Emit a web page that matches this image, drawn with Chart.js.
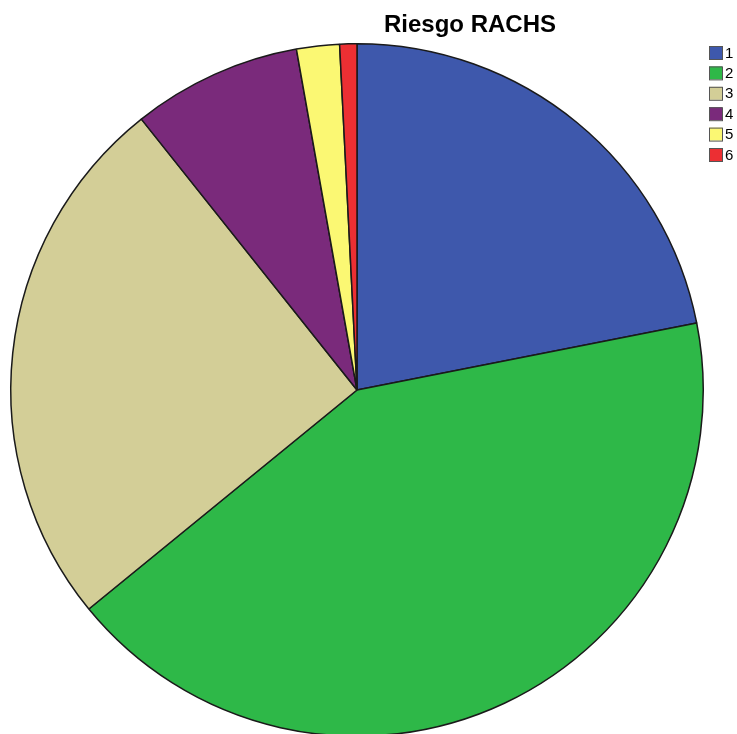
<!DOCTYPE html>
<html>
<head>
<meta charset="utf-8">
<title>Riesgo RACHS</title>
<script src="https://cdn.jsdelivr.net/npm/chart.js@4"></script>
<style>
    html, body { margin: 0; padding: 0; background: #fff; overflow: hidden; }
    #wrap { width: 737px; height: 740px; position: relative; }
</style>
</head>
<body>
<div id="wrap"><canvas id="riesgo-rachs"></canvas></div>
<script>
// categories and share of cases (%)
const categorias = ['1', '2', '3', '4', '5', '6'];
const porcentajes = [21.9, 42.2, 25.2, 7.9, 2.0, 0.8];
const colores = ['#3E58AC', '#2EB848', '#D3CE97', '#7A2A7B', '#FBF873', '#EC2F33'];
const titulo = 'Riesgo RACHS';

// title and legend drawn by hand so they sit where the pie leaves room
const marcoPlugin = {
    id: 'marco',
    afterDraw(chart) {
        const ctx = chart.ctx;
        ctx.save();
        ctx.fillStyle = '#000';
        ctx.font = 'bold 24px "Liberation Sans", Arial, sans-serif';
        ctx.textAlign = 'center';
        ctx.textBaseline = 'alphabetic';
        ctx.fillText(titulo, 470, 32);

        ctx.font = '15px "Liberation Sans", Arial, sans-serif';
        ctx.textAlign = 'left';
        ctx.textBaseline = 'middle';
        chart.data.labels.forEach(function (lab, i) {
            const y = 46 + i * 20.4;
            ctx.fillStyle = chart.data.datasets[0].backgroundColor[i];
            ctx.fillRect(709, y, 13, 13);
            ctx.strokeStyle = '#555';
            ctx.lineWidth = 1;
            ctx.strokeRect(709.5, y + 0.5, 13, 13);
            ctx.fillStyle = '#000';
            ctx.fillText(lab, 725, y + 7.5);
        });
        ctx.restore();
    }
};

new Chart(
    document.getElementById('riesgo-rachs'),
    {
        type: 'pie',
        data: {
            labels: categorias,
            datasets: [
                {
                    data: porcentajes,
                    backgroundColor: colores,
                    borderColor: '#1a1a1a',
                    borderWidth: 1.5,
                    hoverOffset: 0
                }
            ]
        },
        options: {
            responsive: true,
            maintainAspectRatio: false,
            animation: false,
            layout: {
                padding: { left: 10, right: 33, top: 43, bottom: 3 }
            },
            plugins: {
                legend: { display: false },
                title: { display: false },
                tooltip: { enabled: false }
            }
        },
        plugins: [marcoPlugin]
    }
)
</script>
</body>
</html>
